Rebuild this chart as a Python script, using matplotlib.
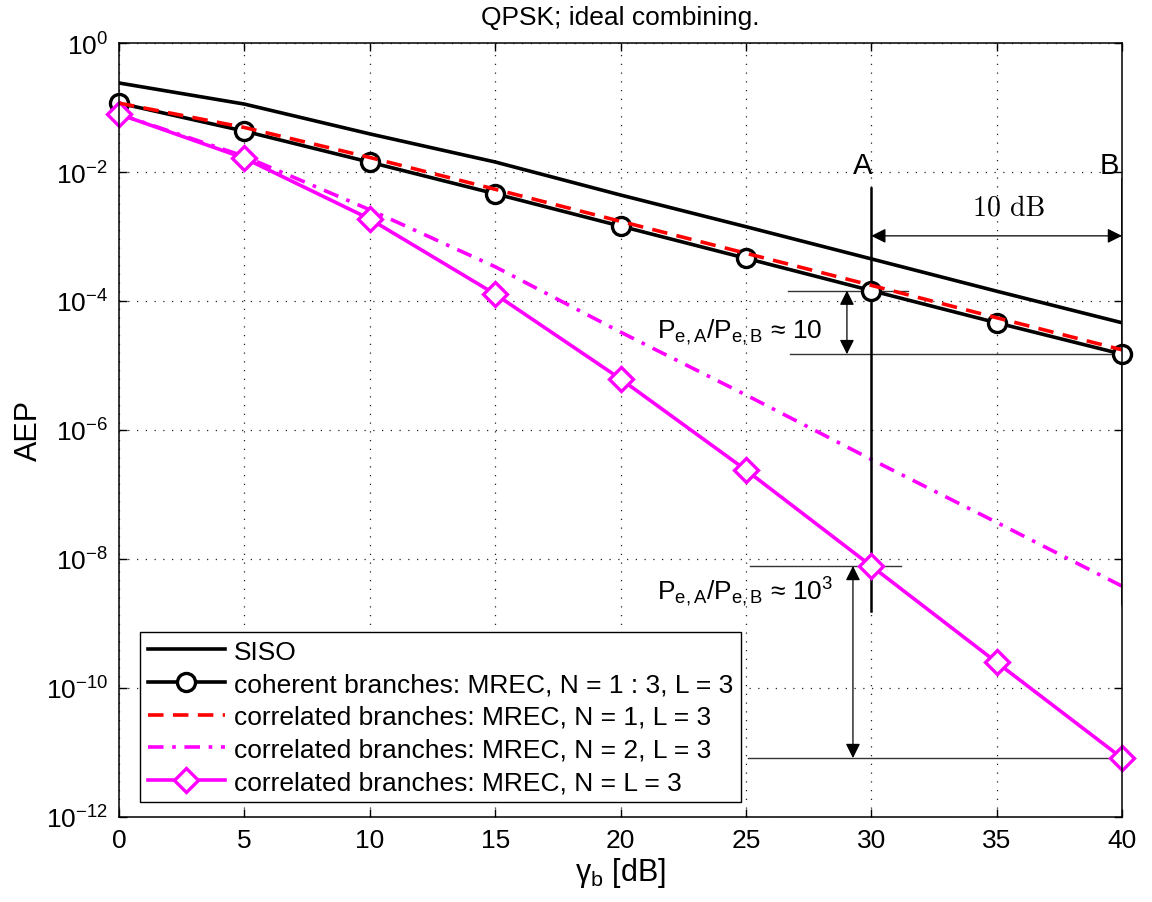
import matplotlib
matplotlib.use("Agg")
import matplotlib.pyplot as plt
import numpy as np
from matplotlib.ticker import LogFormatterMathtext, FixedLocator, NullLocator

plt.rcParams['font.family'] = ['Liberation Sans', 'DejaVu Sans']
plt.rcParams['mathtext.fontset'] = 'custom'
plt.rcParams['mathtext.rm'] = 'Liberation Sans'
plt.rcParams['mathtext.it'] = 'Liberation Sans:italic'
plt.rcParams['mathtext.bf'] = 'Liberation Sans:bold'

# ---------------- data ----------------
snr_db = [0, 5, 10, 15, 20, 25, 30, 35, 40]
siso = [2.4e-1, 1.13e-1, 3.9e-2, 1.43e-2, 4.4e-3, 1.42e-3, 4.5e-4, 1.42e-4, 4.6e-5]
coherent = [1.17e-1, 4.3e-2, 1.42e-2, 4.6e-3, 1.45e-3, 4.6e-4, 1.45e-4, 4.6e-5, 1.5e-5]
corr_n1 = [1.17e-1, 4.9e-2, 1.68e-2, 5.4e-3, 1.72e-3, 5.5e-4, 1.75e-4, 5.5e-5, 1.75e-5]
corr_n2 = [7.9e-2, 1.75e-2, 2.6e-3, 3.4e-4, 3.3e-5, 3.5e-6, 3.5e-7, 3.7e-8, 3.8e-9]
corr_n3 = [7.9e-2, 1.64e-2, 1.87e-3, 1.28e-4, 6.2e-6, 2.4e-7, 7.8e-9, 2.5e-10, 8.2e-12]

labels = ['SISO',
          'coherent branches: MREC, N = 1 : 3, L = 3',
          'correlated branches: MREC, N = 1, L = 3',
          'correlated branches: MREC, N = 2, L = 3',
          'correlated branches: MREC, N = L = 3']

x_ticks = [0, 5, 10, 15, 20, 25, 30, 35, 40]
y_ticks = [1e0, 1e-2, 1e-4, 1e-6, 1e-8, 1e-10, 1e-12]
title = 'QPSK; ideal combining.'
xlabel = 'γ$_\\mathrm{b}$ [dB]'
ylabel = 'AEP'

point_a = 30
point_b = 40

# ---------------- figure ----------------
W, H = 1152, 903
fig = plt.figure(figsize=(W / 100, H / 100), dpi=100)
ax = fig.add_axes([119 / W, 1 - 818 / H, (1122 - 119) / W, (818 - 44) / H])

FS = 19
magenta = '#FF00FF'

ax.plot(snr_db, siso, color='k', lw=2.6, label=labels[0])
ax.plot(snr_db, coherent, color='k', lw=2.6, marker='o', ms=13, mfc='white',
        mec='k', mew=2.4, label=labels[1], clip_on=False, zorder=4)
ax.plot(snr_db, corr_n1, color='#FF0000', lw=2.6, linestyle=(0, (4.3, 2.6)),
        label=labels[2], zorder=5)
ax.plot(snr_db, corr_n2, color=magenta, lw=2.6, linestyle=(0, (4.3, 2.4, 1.0, 2.4)),
        label=labels[3])
ax.plot(snr_db, corr_n3, color=magenta, lw=2.6, marker='D', ms=12, mfc='white',
        mec=magenta, mew=2.4, label=labels[4], clip_on=False, zorder=4)

ax.set_yscale('log')
ax.set_xlim(0, 40)
ax.set_ylim(1e-12, 1e0)
ax.xaxis.set_major_locator(FixedLocator(x_ticks))
ax.yaxis.set_major_locator(FixedLocator(y_ticks))
ax.yaxis.set_minor_locator(NullLocator())
ax.yaxis.set_major_formatter(LogFormatterMathtext())
ax.tick_params(which='both', direction='in', top=True, right=True, length=6,
               width=1.0, labelsize=FS, pad=8)
for s in ax.spines.values():
    s.set_linewidth(1.1)
    s.set_zorder(6)
ax.grid(True, which='major', linestyle=(0, (1, 6)), color='#222222', lw=0.9)

ax.set_title(title, fontsize=FS, pad=14)
ax.set_xlabel(xlabel, fontsize=22, labelpad=2)
ax.set_ylabel(ylabel, fontsize=22, labelpad=1)

# ---------------- annotations ----------------
ia = snr_db.index(point_a)
ib = snr_db.index(point_b)

# vertical marker lines A and B
ax.plot([point_a, point_a], [10**-2.25, 10**-8.81], color='k', lw=1.8, zorder=3)
ax.plot([point_b, point_b], [10**-2.11, 10**-8.70], color='k', lw=1.8, zorder=3)
ax.text(29.65, 10**-1.89, 'A', fontsize=FS + 2, ha='center', va='center')
ax.text(39.5, 10**-1.89, 'B', fontsize=FS + 2, ha='center', va='center')

# 10 dB horizontal arrow
arrow_kw = dict(arrowstyle='<|-|>', color='k', lw=0.9, shrinkA=0, shrinkB=0,
                mutation_scale=22)
ax.annotate('', xy=(point_a, 10**-2.99), xytext=(point_b, 10**-2.99),
            arrowprops=arrow_kw)
ax.text(35.5, 10**-2.55, '10 dB', fontsize=FS + 1, family='cmr10',
        ha='center', va='center')

# upper ratio (coherent)
ax.plot([26.68, 31.47], [coherent[ia], coherent[ia]], color='#333333', lw=1.0)
ax.plot([26.76, point_b], [coherent[ib], coherent[ib]], color='#333333', lw=1.0)
ax.annotate('', xy=(29.03, coherent[ia]), xytext=(29.03, coherent[ib]),
            arrowprops=arrow_kw)
ax.text(21.45, 10**-4.57, 'P$_{\\mathrm{e,A}}$/P$_{\\mathrm{e,B}}$ ≈ 10',
        fontsize=FS, ha='left', va='baseline')

# lower ratio (N = L = 3)
ax.plot([25.16, 31.2], [corr_n3[ia], corr_n3[ia]], color='#333333', lw=1.0)
ax.plot([25.08, point_b], [corr_n3[ib], corr_n3[ib]], color='#333333', lw=1.0)
ax.annotate('', xy=(29.27, corr_n3[ia]), xytext=(29.27, corr_n3[ib]),
            arrowprops=arrow_kw)
ax.text(21.45, 10**-8.62, 'P$_{\\mathrm{e,A}}$/P$_{\\mathrm{e,B}}$ ≈ 10$^{3}$',
        fontsize=FS, ha='left', va='baseline')

leg = ax.legend(loc='lower left', bbox_to_anchor=(0.021, 0.019), borderaxespad=0,
                fontsize=FS, fancybox=False, framealpha=1, edgecolor='k',
                handlelength=2.9, labelspacing=0.33, handletextpad=0.35,
                borderpad=0.3)
leg.get_frame().set_linewidth(1.0)
leg.set_zorder(7)

fig.savefig('out.png', dpi=100)
